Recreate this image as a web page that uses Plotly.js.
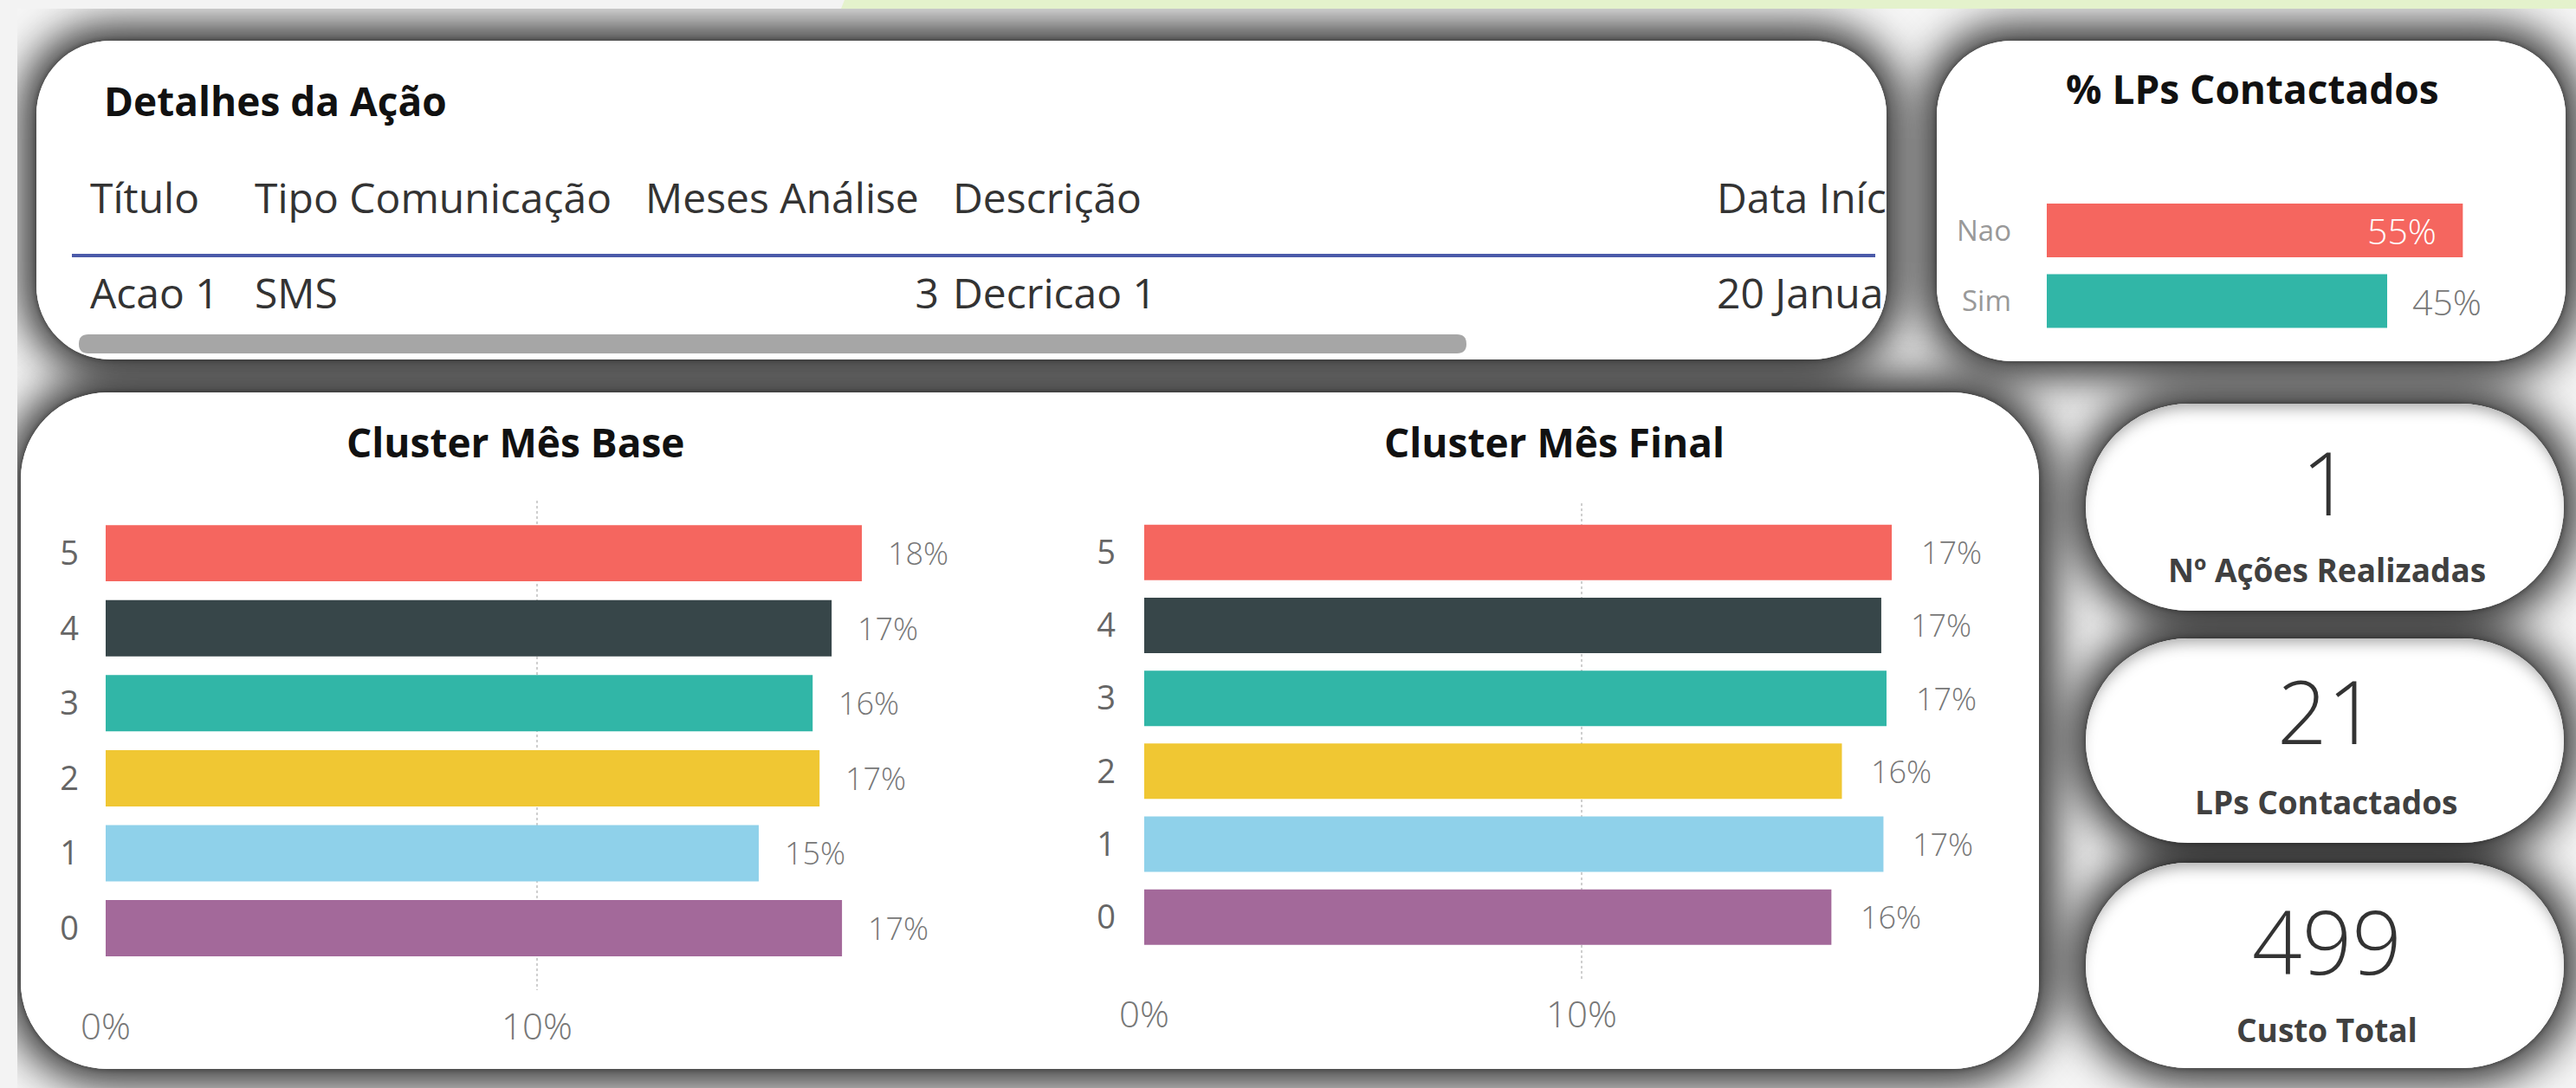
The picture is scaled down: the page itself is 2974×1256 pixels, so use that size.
<!DOCTYPE html>
<html><head><meta charset="utf-8">
<script src="https://cdn.plot.ly/plotly-3.0.1.min.js"></script>
<style>
html,body{margin:0;padding:0;width:2974px;height:1256px;overflow:hidden;background:#f3f3f3;}
#strip{position:absolute;left:0;top:0;width:2974px;height:10px;background:#e4f2cc;clip-path:polygon(975px 0,2974px 0,2974px 10px,971px 10px);}
#canvas{position:absolute;left:20px;top:10px;width:2954px;height:1246px;background:#f6f6f6;overflow:hidden;}
.sh{position:absolute;background:#fff;box-shadow:0 0 4px 2px rgba(0,0,0,0.2),0 0 50px 18px rgba(0,0,0,0.82);}
.wh{position:absolute;background:#fff;}
.card{box-shadow:inset 0 12px 18px -8px rgba(0,0,0,0.38);}
#plot{position:absolute;left:0;top:0;width:2974px;height:1256px;}
</style></head>
<body>
<div id="strip"></div>
<div id="canvas"></div>
<div id="plot"></div>
<script>
// ---------------- data ----------------
const tableHeaders = ['Título', 'Tipo Comunicação', 'Meses Análise', 'Descrição', 'Data Início'];
const tableRow = ['Acao 1', 'SMS', 3, 'Decricao 1', '20 January'];

const contactCats = ['Sim', 'Nao'];
const contactPct = [45, 55];

const clusterCats = ['0', '1', '2', '3', '4', '5'];
const baseCluster = [17.07, 15.14, 16.55, 16.39, 16.83, 17.53];
const finalCluster = [15.71, 16.90, 15.95, 16.97, 16.85, 17.09];

const kpiLabels = ['Nº Ações Realizadas', 'LPs Contactados', 'Custo Total'];
const kpiValues = [1, 21, 499];

const titles = ['Detalhes da Ação', '% LPs Contactados', 'Cluster Mês Base', 'Cluster Mês Final'];

// ---------------- styles ----------------
const clusterColors = ['#A3699A', '#8FD1EA', '#F0C733', '#31B6A7', '#374649', '#F5665F'];
const contactColors = ['#31B6A7', '#F5665F'];
const FONT = 'Segoe UI, Open Sans, Noto Sans, sans-serif';
const W = 2974, H = 1256;
const fx = p => p / W, fy = p => 1 - p / H;
const nb = v => String(v).replace(/ /g, '\u00a0');   // keep table cells on one line

// panels (page px): x, y, w, h, radius, isCard
const panels = [
  [42, 47, 2136, 368, 85, 0],
  [2236, 47, 726, 370, 86, 0],
  [24, 453, 2330, 781, 100, 0],
  [2408, 466, 552, 239, 120, 1],
  [2408, 737, 552, 236, 118, 1],
  [2408, 996, 552, 237, 118, 1]
];
const canvas = document.getElementById('canvas');
['sh', 'wh'].forEach(cls => {
  panels.forEach(p => {
    const d = document.createElement('div');
    d.className = cls + (cls === 'wh' && p[5] ? ' card' : '');
    d.style.left = (p[0] - 20) + 'px';
    d.style.top = (p[1] - 10) + 'px';
    d.style.width = p[2] + 'px';
    d.style.height = p[3] + 'px';
    d.style.borderRadius = p[4] + 'px';
    canvas.appendChild(d);
  });
});

// ---------------- traces ----------------
const traces = [];
traces.push({
  type: 'table',
  domain: {x: [fx(96), fx(2176)], y: [fy(410), fy(202)]},
  columnwidth: [190, 451, 355, 882, 202],
  header: {
    values: tableHeaders.map(nb), align: 'left', height: 110,
    font: {family: FONT, size: 48, color: '#333333'},
    fill: {color: 'rgba(0,0,0,0)'}, line: {width: 0, color: 'rgba(0,0,0,0)'}
  },
  cells: {
    values: tableRow.map(v => [nb(v)]), align: ['left', 'left', 'right', 'left', 'left'], height: 90,
    font: {family: FONT, size: 48, color: '#333333'},
    fill: {color: 'rgba(0,0,0,0)'}, line: {width: 0, color: 'rgba(0,0,0,0)'}
  }
});
traces.push({
  type: 'bar', orientation: 'h', x: contactPct, y: contactCats, width: 0.76,
  marker: {color: contactColors}, xaxis: 'x', yaxis: 'y', hoverinfo: 'none'
});
traces.push({
  type: 'bar', orientation: 'h', x: baseCluster, y: clusterCats, width: 0.75,
  marker: {color: clusterColors}, xaxis: 'x2', yaxis: 'y2', hoverinfo: 'none'
});
traces.push({
  type: 'bar', orientation: 'h', x: finalCluster, y: clusterCats, width: 0.76,
  marker: {color: clusterColors}, xaxis: 'x3', yaxis: 'y3', hoverinfo: 'none'
});

// ---------------- annotations ----------------
const ann = [];
const titleFont = {family: FONT, size: 46, color: '#111111', weight: 700};
ann.push({xref: 'paper', yref: 'paper', x: fx(118), y: fy(116), xanchor: 'left', yanchor: 'middle', text: titles[0], showarrow: false, font: titleFont});
ann.push({xref: 'paper', yref: 'paper', x: fx(2600), y: fy(102), xanchor: 'center', yanchor: 'middle', text: titles[1], showarrow: false, font: titleFont});
ann.push({xref: 'paper', yref: 'paper', x: fx(595), y: fy(510), xanchor: 'center', yanchor: 'middle', text: titles[2], showarrow: false, font: titleFont});
ann.push({xref: 'paper', yref: 'paper', x: fx(1794), y: fy(510), xanchor: 'center', yanchor: 'middle', text: titles[3], showarrow: false, font: titleFont});

const labFont = {family: FONT, size: 36, color: '#777777', weight: 300};
const maxC = Math.max(...contactPct);
contactCats.forEach((c, i) => {
  const inside = contactPct[i] === maxC;
  ann.push({xref: 'x', yref: 'y', x: contactPct[i], y: c, text: Math.round(contactPct[i]) + '%', showarrow: false,
    xanchor: inside ? 'right' : 'left', xshift: inside ? -28 : 27,
    font: {family: FONT, size: 41, weight: 300, color: inside ? '#ffffff' : '#777777'}});
});
clusterCats.forEach((c, i) => {
  ann.push({xref: 'x2', yref: 'y2', x: baseCluster[i], y: c, text: Math.round(baseCluster[i]) + '%', showarrow: false, xanchor: 'left', xshift: 28, font: labFont});
  ann.push({xref: 'x3', yref: 'y3', x: finalCluster[i], y: c, text: Math.round(finalCluster[i]) + '%', showarrow: false, xanchor: 'left', xshift: 32, font: labFont});
});

const kpiNumY = [556, 820, 1086], kpiLabY = [657, 925, 1188];
kpiValues.forEach((v, i) => {
  ann.push({xref: 'paper', yref: 'paper', x: fx(2686), y: fy(kpiNumY[i]), xanchor: 'center', yanchor: 'middle', text: String(v), showarrow: false,
    font: {family: FONT, size: 101, color: '#333333', weight: 300}});
  ann.push({xref: 'paper', yref: 'paper', x: fx(2686), y: fy(kpiLabY[i]), xanchor: 'center', yanchor: 'middle', text: kpiLabels[i], showarrow: false,
    font: {family: FONT, size: 37, color: '#404040', weight: 700}});
});

// ---------------- shapes ----------------
function roundRectPath(x0, y0, x1, y1, r) {
  const X = fx, Y = fy;
  return 'M' + X(x0 + r) + ',' + Y(y0) + ' L' + X(x1 - r) + ',' + Y(y0) +
    ' Q' + X(x1) + ',' + Y(y0) + ' ' + X(x1) + ',' + Y(y0 + r) +
    ' L' + X(x1) + ',' + Y(y1 - r) +
    ' Q' + X(x1) + ',' + Y(y1) + ' ' + X(x1 - r) + ',' + Y(y1) +
    ' L' + X(x0 + r) + ',' + Y(y1) +
    ' Q' + X(x0) + ',' + Y(y1) + ' ' + X(x0) + ',' + Y(y1 - r) +
    ' L' + X(x0) + ',' + Y(y0 + r) +
    ' Q' + X(x0) + ',' + Y(y0) + ' ' + X(x0 + r) + ',' + Y(y0) + ' Z';
}
const shapes = [
  {type: 'line', xref: 'paper', yref: 'paper', x0: fx(83), x1: fx(2165), y0: fy(295), y1: fy(295), line: {color: '#4b5aa9', width: 4}},
  {type: 'path', xref: 'paper', yref: 'paper', path: roundRectPath(91, 386, 1693, 408, 11), fillcolor: '#a6a6a6', line: {width: 0}}
];

// ---------------- axes ----------------
const tickGray = {family: FONT, size: 38, color: '#666666'};
const xTickFont = {family: FONT, size: 42, color: '#777777', weight: 300};
const layout = {
  width: W, height: H, margin: {l: 0, r: 0, t: 0, b: 0},
  paper_bgcolor: 'rgba(0,0,0,0)', plot_bgcolor: 'rgba(0,0,0,0)',
  showlegend: false, font: {family: FONT},
  xaxis: {domain: [fx(2363), fx(2887)], range: [0, 60], visible: false, fixedrange: true, anchor: 'y'},
  yaxis: {domain: [fy(388.25), fy(225.25)], range: [-0.5, 1.5], type: 'category', categoryarray: contactCats,
    showgrid: false, zeroline: false, showline: false, ticks: '', ticklabelstandoff: 40,
    tickfont: {family: FONT, size: 33, color: '#999999'}, anchor: 'x', fixedrange: true},
  xaxis2: {domain: [fx(122), fx(1068.2)], range: [0, 19], dtick: 10, ticksuffix: '%', showgrid: true, gridcolor: '#cfcfcf',
    griddash: 'dot', gridwidth: 2, zeroline: false, showline: false, ticks: '', ticklabelstandoff: 14,
    tickfont: xTickFont, anchor: 'y2', fixedrange: true},
  yaxis2: {domain: [fy(1142.6), fy(578)], range: [-0.82, 5.70], type: 'category', categoryarray: clusterCats,
    showgrid: false, zeroline: false, showline: false, ticks: '', ticklabelstandoff: 30, tickfont: tickGray, anchor: 'x2', fixedrange: true},
  xaxis3: {domain: [fx(1321), fx(2280.5)], range: [0, 19], dtick: 10, ticksuffix: '%', showgrid: true, gridcolor: '#cfcfcf',
    griddash: 'dot', gridwidth: 2, zeroline: false, showline: false, ticks: '', ticklabelstandoff: 12,
    tickfont: xTickFont, anchor: 'y3', fixedrange: true},
  yaxis3: {domain: [fy(1130.7), fy(580.5)], range: [-0.855, 5.68], type: 'category', categoryarray: clusterCats,
    showgrid: false, zeroline: false, showline: false, ticks: '', ticklabelstandoff: 32, tickfont: tickGray, anchor: 'x3', fixedrange: true},
  annotations: ann,
  shapes: shapes
};
Plotly.newPlot('plot', traces, layout, {staticPlot: true, displayModeBar: false});
</script>
</body></html>
